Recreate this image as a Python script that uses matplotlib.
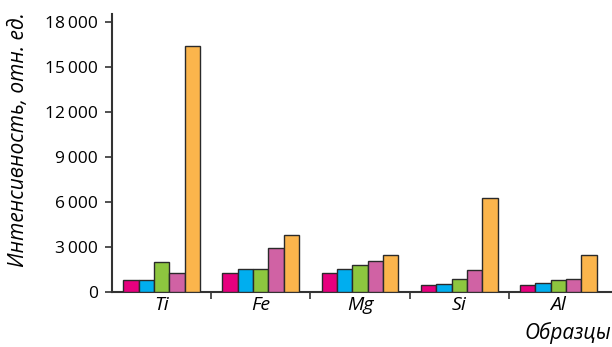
import matplotlib
matplotlib.use("Agg")
import matplotlib.pyplot as plt
import numpy as np

categories = ["Ti", "Fe", "Mg", "Si", "Al"]
s1 = [800, 1290, 1290, 440, 440]
s2 = [800, 1550, 1530, 510, 620]
s3 = [2020, 1550, 1780, 890, 800]
s4 = [1250, 2910, 2040, 1470, 890]
s5 = [16420, 3800, 2470, 6290, 2450]
series = [s1, s2, s3, s4, s5]
colors = ["#E6007E", "#00AEEF", "#8DC63F", "#D062A4", "#FBB54C"]
yticks = [0, 3000, 6000, 9000, 12000, 15000, 18000]
ytick_labels = ["0", "3\u2009000", "6\u2009000", "9\u2009000", "12\u2009000", "15\u2009000", "18\u2009000"]

plt.rcParams['font.family'] = ['Open Sans', 'DejaVu Sans']

fig = plt.figure(figsize=(6.12, 3.47), dpi=100)
ax = fig.add_axes([112/612, 1-292/347, 1-112/612, (292-14)/347])

x = np.arange(len(categories))
w = 0.155
for i, (vals, c) in enumerate(zip(series, colors)):
    ax.bar(x + (i - 2) * w, vals, width=w, color=c, edgecolor="#2a2a2a", linewidth=1.0, zorder=3)

ax.set_xlim(-0.5, 4.54)
ax.set_ylim(0, 18530)
ax.set_yticks(yticks)
ax.set_yticklabels(ytick_labels, fontsize=12.5)

ax.set_xticks(x)
ax.set_xticklabels(categories, fontsize=14, style="italic")
ax.tick_params(axis="x", which="major", length=0, pad=3)
ax.set_xticks(np.arange(0.5, 4.0, 1.0), minor=True)
ax.tick_params(axis="x", which="minor", length=5, width=1.2, color="#333333", direction="out")
ax.tick_params(axis="y", length=5, width=1.2, color="#333333", pad=5)

for s in ["top", "right"]:
    ax.spines[s].set_visible(False)
for s in ["left", "bottom"]:
    ax.spines[s].set_color("#333333")
    ax.spines[s].set_linewidth(1.5)

fig.text(19/612, 1-140/347, "Интенсивность, отн. ед.", rotation=90, ha="center", va="center",
         fontsize=15, style="italic")
fig.text(611/612, 1-333/347, "Образцы", ha="right", va="center", fontsize=15, style="italic")

fig.savefig("out.png", dpi=100)
